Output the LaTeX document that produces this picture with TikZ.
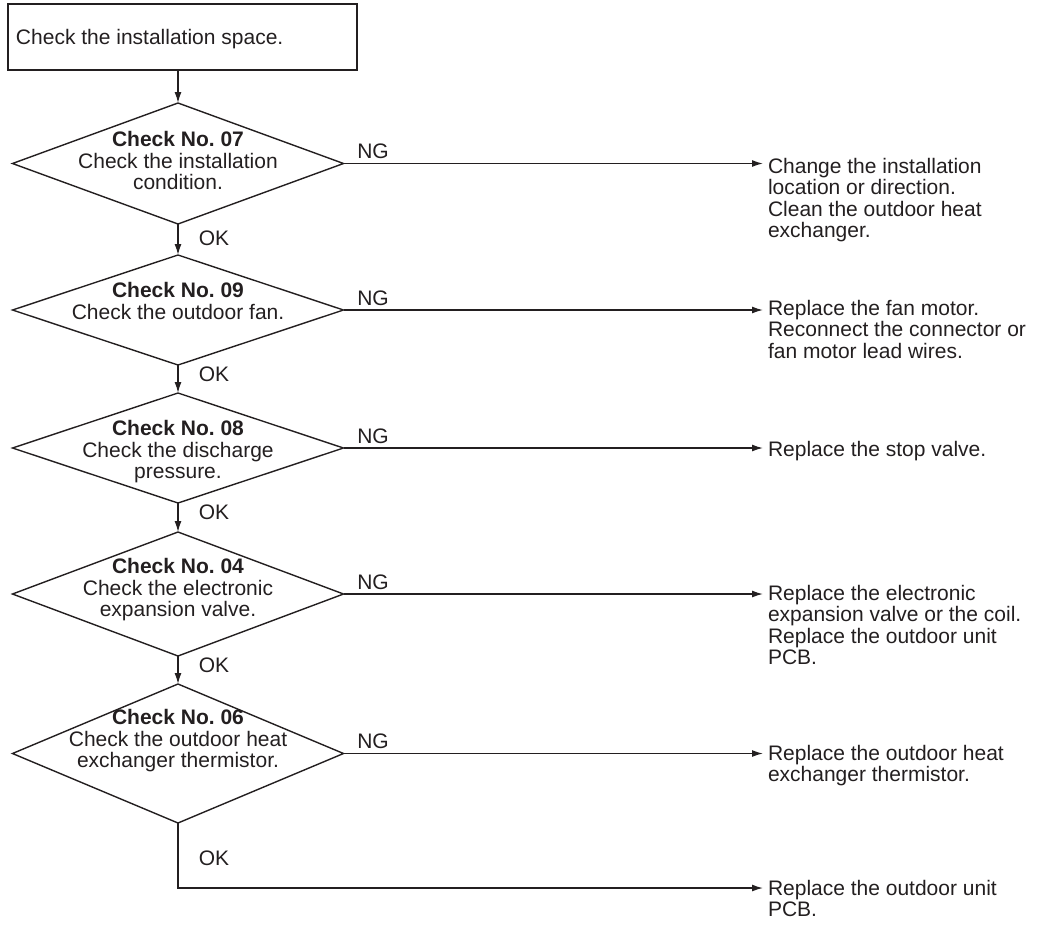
\documentclass[tikz,border=0pt]{standalone}
\usepackage{fontspec}
\setmainfont{Liberation Sans}
\usetikzlibrary{arrows.meta,shapes.geometric}
\definecolor{ink}{RGB}{35,31,32}
\frenchspacing
\begin{document}
\begin{tikzpicture}[x=1pt,y=-1pt,
  every node/.style={font=\fontsize{21}{21.5}\selectfont, text=ink, inner sep=0pt, outer sep=0pt},
  ln/.style={draw=ink, line width=1.4pt},
  arr/.style={ln, -{Latex[length=11pt,width=7pt]}},
  dia/.style={diamond, draw=ink, line width=1.4pt, minimum width=331pt, inner sep=0pt, outer sep=0pt},
  box/.style={draw=ink, line width=1.4pt, minimum width=349pt, minimum height=66pt, outer sep=0pt},
  dtxt/.style={align=center},
  rtxt/.style={align=left, anchor=north west},
  lbl/.style={}
]
\useasboundingbox (0,0) rectangle (1042,927);

% start box
\node[box, anchor=north west] (start) at (8,4) {};
\node[anchor=west] (starttxt) at (16,39) {Check the installation space.};

% diamonds
\node[dia, minimum height=121pt] (d1) at (178,163.5) {};
\node[dia, minimum height=110pt] (d2) at (178,310) {};
\node[dia, minimum height=110pt] (d3) at (178,448) {};
\node[dia, minimum height=124pt] (d4) at (178,594) {};
\node[dia, minimum height=139pt] (d5) at (178,753.5) {};

\node[dtxt] (t1) at (178,160.5) {\textbf{Check No. 07}\\Check the installation\\condition.};
\node[dtxt] (t2) at (178,301) {\textbf{Check No. 09}\\Check the outdoor fan.};
\node[dtxt] (t3) at (178,452) {\textbf{Check No. 08}\\Check the discharge\\pressure.};
\node[dtxt] (t4) at (178,590) {\textbf{Check No. 04}\\Check the electronic\\expansion valve.};
\node[dtxt] (t5) at (178,741) {\textbf{Check No. 06}\\Check the outdoor heat\\exchanger thermistor.};

% arrow tips on the right
\coordinate (a1) at (763,163.5);
\coordinate (a2) at (763,310);
\coordinate (a3) at (763,448);
\coordinate (a4) at (763,594);
\coordinate (a5) at (763,753.5);
\coordinate (a6) at (763,888);

% right texts
\node[rtxt] (r1) at (768,158) {Change the installation\\location or direction.\\Clean the outdoor heat\\exchanger.};
\node[rtxt] (r2) at (768,300) {Replace the fan motor.\\Reconnect the connector or\\fan motor lead wires.};
\node[rtxt] (r3) at (768,441) {Replace the stop valve.};
\node[rtxt] (r4) at (768,585) {Replace the electronic\\expansion valve or the coil.\\Replace the outdoor unit\\PCB.};
\node[rtxt] (r5) at (768,745) {Replace the outdoor heat\\exchanger thermistor.};
\node[rtxt] (r6) at (768,880) {Replace the outdoor unit\\PCB.};

% NG labels
\node (ng1) at (373,151.5) {NG};
\node (ng2) at (373,298) {NG};
\node (ng3) at (373,436) {NG};
\node (ng4) at (373,582) {NG};
\node (ng5) at (373,741.5) {NG};

% OK labels
\node (ok1) at (214,238) {OK};
\node (ok2) at (214,374) {OK};
\node (ok3) at (214,512) {OK};
\node (ok4) at (214,665) {OK};
\node (ok5) at (214,858) {OK};

% connectors
\draw[arr] (d1.north |- start.south) -- (d1.north);
\draw[arr] (d1.south) -- (d2.north);
\draw[arr] (d2.south) -- (d3.north);
\draw[arr] (d3.south) -- (d4.north);
\draw[arr] (d4.south) -- (d5.north);
\draw[arr] (d5.south) |- (a6);

\draw[arr] (d1.east) -- (a1);
\draw[arr] (d2.east) -- (a2);
\draw[arr] (d3.east) -- (a3);
\draw[arr] (d4.east) -- (a4);
\draw[arr] (d5.east) -- (a5);
\end{tikzpicture}
\end{document}
